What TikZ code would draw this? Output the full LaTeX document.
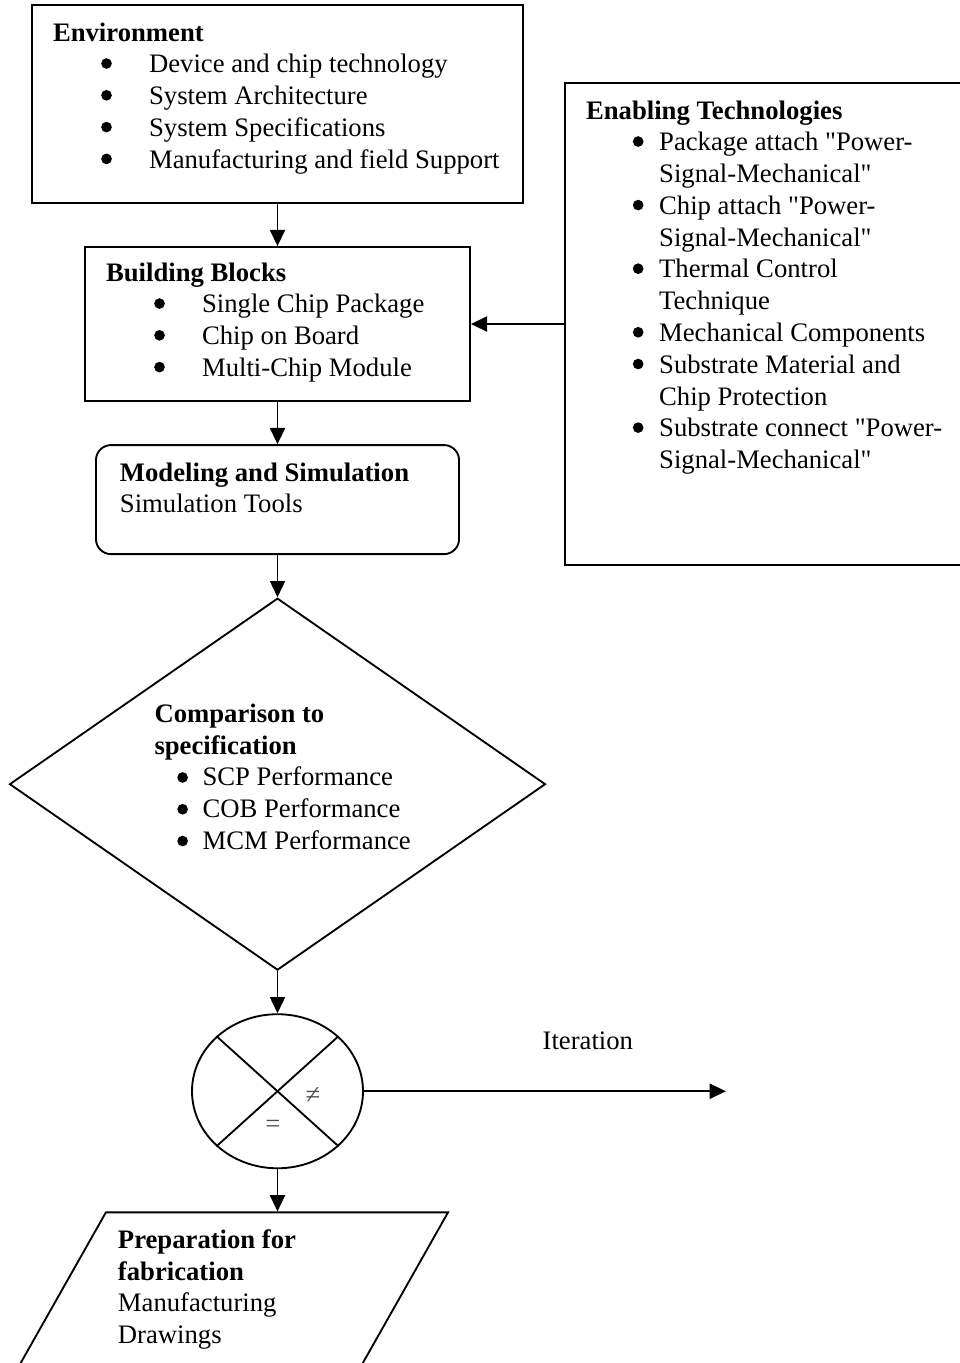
\documentclass[tikz,border=0pt]{standalone}
\usepackage{fontspec}
\setmainfont{Liberation Serif}[Ligatures=TeXOff]
\usepackage{tikz}
\usetikzlibrary{shapes, arrows.meta, positioning}

\newcommand{\itemline}[2]{\mbox{\hspace*{#1}#2}}
\newcommand{\blocktext}[2]{\parbox[t]{#1}{\raggedright #2}}

\begin{document}
\begin{tikzpicture}[x=0.431pt, y=-0.431pt, node distance=18.2pt, line width=0.8pt, font=\fontsize{11.5}{13.7}\selectfont]

  \useasboundingbox (0,0) rectangle (960,1363);

  % Define styles for the different shapes
  \tikzstyle{block} = [draw, rectangle, inner ysep=0pt, inner xsep=9.05pt]
  \tikzstyle{softblock} = [draw, rectangle, rounded corners=6.5pt, inner ysep=0pt, inner xsep=10.35pt]
  \tikzstyle{decision} = [draw, diamond, aspect=1.44, inner sep=0pt, minimum width=231pt, minimum height=160.3pt]
  \tikzstyle{junction} = [draw, ellipse, minimum width=73.7pt, minimum height=66.4pt]
  \tikzstyle{output} = [draw, trapezium, trapezium left angle=60.5, trapezium right angle=119.5, inner xsep=5.2pt, inner ysep=0pt]
  \tikzstyle{flow} = [-{Triangle[length=7pt, width=6.5pt]}]
  \tikzstyle{sign} = [text=black!70]

  \node (env) [block, text height=15.5pt, text depth=69.8pt] at (277.5,104) {\blocktext{193.5pt}{\textbf{Environment}\\
    \itemline{41.4pt}{Device and chip technology}\\
    \itemline{41.4pt}{System Architecture}\\
    \itemline{41.4pt}{System Specifications}\\
    \itemline{41.4pt}{Manufacturing and field Support}}};
  \node (blocks) [block, text height=14.65pt, text depth=51.7pt, below=of env] {\blocktext{147.8pt}{\textbf{Building Blocks}\\
    \itemline{41.4pt}{Single Chip Package}\\
    \itemline{41.4pt}{Chip on Board}\\
    \itemline{41.4pt}{Multi-Chip Module}}};
  \node (model) [softblock, text height=15.5pt, text depth=31.5pt, below=of blocks] {\blocktext{135.8pt}{\textbf{Modeling and Simulation}\\
    Simulation Tools}};
  \node (enabling) [block, text height=15.5pt, text depth=192.2pt, right=40.2pt of blocks] {\blocktext{159.5pt}{\textbf{Enabling Technologies}\\
    \itemline{31.5pt}{Package attach "Power-}\\
    \itemline{31.5pt}{Signal-Mechanical"}\\
    \itemline{31.5pt}{Chip attach "Power-}\\
    \itemline{31.5pt}{Signal-Mechanical"}\\
    \itemline{31.5pt}{Thermal Control}\\
    \itemline{31.5pt}{Technique}\\
    \itemline{31.5pt}{Mechanical Components}\\
    \itemline{31.5pt}{Substrate Material and}\\
    \itemline{31.5pt}{Chip Protection}\\
    \itemline{31.5pt}{Substrate connect "Power-}\\
    \itemline{31.5pt}{Signal-Mechanical"}}};
  \node (compare) [decision, text height=8.6pt, text depth=62pt, below=of model] {\blocktext{125pt}{\leftskip=9.5pt
    \textbf{Comparison to}\\
    \textbf{specification}\\
    \itemline{20.7pt}{SCP Performance}\\
    \itemline{20.7pt}{COB Performance}\\
    \itemline{20.7pt}{MCM Performance}}};
  \node (decide) [junction, below=of compare] {};
  \node (prep) [output, text height=15.5pt, text depth=50.9pt, below=of decide, anchor=top side] {\blocktext{99.5pt}{\textbf{Preparation for}\\
    \textbf{fabrication}\\
    Manufacturing\\
    Drawings}};
  \node (neq) [sign] at ([shift={(15.3pt,-1.9pt)}]decide.center) {≠};
  \node (eq) [sign] at ([shift={(-2pt,-15.3pt)}]decide.center) {=};
  \coordinate [right=156pt of decide] (iterend);
  \node (iteration) [anchor=base] at ([shift={(96.5pt,18pt)}]decide.east) {Iteration};

  % list bullets
  \foreach \k in {1,...,4}
    \fill ([shift={(32.5pt,{-11.9pt-13.7pt*\k})}]env.north west) circle (2.3pt);
  \foreach \k in {1,...,3}
    \fill ([shift={(32.5pt,{-11.05pt-13.7pt*\k})}]blocks.north west) circle (2.3pt);
  \foreach \k in {1,3,5,7,8,10}
    \fill ([shift={(31.9pt,{-11.9pt-13.7pt*\k})}]enabling.north west) circle (2.3pt);
  \foreach \k in {2,3,4}
    \fill ([shift={(-40.9pt,{30.3pt-13.7pt*\k})}]compare.center) circle (2.3pt);

  \draw (decide.north west) -- (decide.south east);
  \draw (decide.north east) -- (decide.south west);

  \draw[flow] (env) -- (blocks);
  \draw[flow] (blocks) -- (model);
  \draw[flow] (model) -- (compare);
  \draw[flow] (compare) -- (decide);
  \draw[flow] (decide) -- (prep.top side);
  \draw[flow] (enabling) -- (blocks);
  \draw[flow] (decide) -- (iterend);

\end{tikzpicture}
\end{document}
